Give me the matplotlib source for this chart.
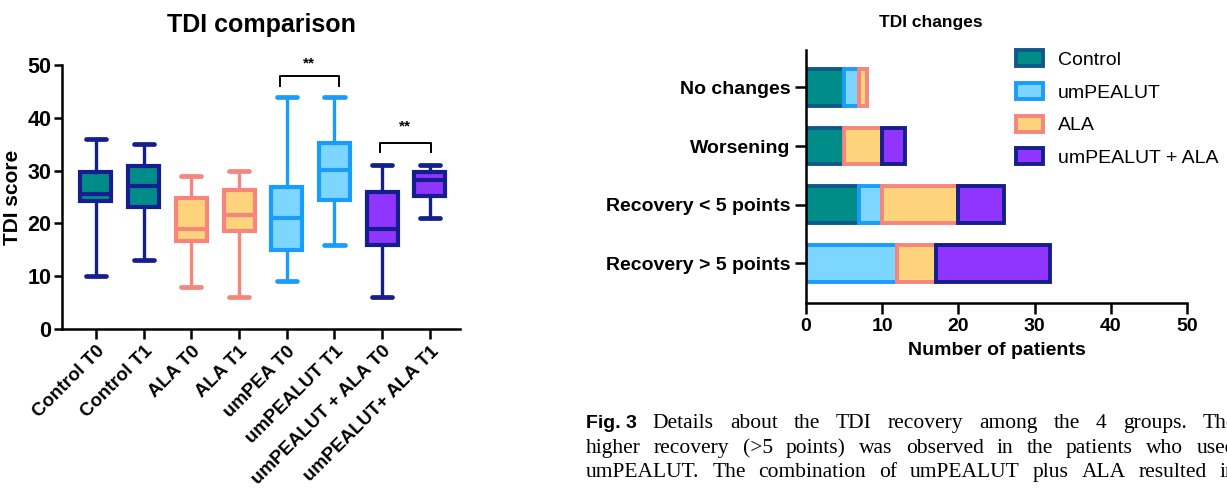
import numpy as np
import matplotlib
matplotlib.use("Agg")
import matplotlib.pyplot as plt
from matplotlib import transforms
from matplotlib.patches import Patch

plt.rcParams['font.family'] = ['Liberation Sans', 'DejaVu Sans']

# TDI comparison (box plot summary per group)
groups = ["Control T0", "Control T1", "ALA T0", "ALA T1", "umPEA T0",
          "umPEALUT T1", "umPEALUT + ALA T0", "umPEALUT+ ALA T1"]
whislo = [10, 13, 8, 6, 9, 16, 6, 21]
q1 = [24.3, 23.1, 16.7, 18.6, 15.0, 24.5, 16.0, 25.2]
med = [25.6, 27.0, 19.0, 21.6, 21.0, 30.2, 19.0, 28.3]
q3 = [29.7, 30.8, 24.8, 26.3, 26.9, 35.2, 25.9, 29.8]
whishi = [36, 35, 29, 30, 44, 44, 31, 31]

# TDI changes (number of patients)
outcomes = ["No changes", "Worsening", "Recovery < 5 points", "Recovery > 5 points"]
series = ["Control", "umPEALUT", "ALA", "umPEALUT + ALA"]
n_control = [5, 5, 7, 0]
n_umpealut = [2, 0, 3, 12]
n_ala = [1, 5, 10, 5]
n_combo = [0, 3, 6, 15]

caption = [
    "Details about the TDI recovery among the 4 groups. The",
    "higher recovery (>5 points) was observed in the patients who used",
    "umPEALUT. The combination of umPEALUT plus ALA resulted in",
]

teal = "#008c88"
navy = "#141e8c"
yellow = "#fdd37c"
salmon = "#f7857c"
lblue = "#7dd6ff"
blue = "#1a9cfb"
purple = "#9035fd"
ctrl_edge = "#0d5a8a"

fills = [teal, teal, yellow, yellow, lblue, lblue, purple, purple]
edges = [navy, navy, salmon, salmon, blue, blue, navy, navy]

W, H = 1227, 496
fig = plt.figure(figsize=(W/100, H/100), dpi=100)

# ---------- left panel
ax1 = fig.add_axes([62/W, 167/H, 398/W, 264/H])
stats = []
for i in range(len(groups)):
    stats.append(dict(whislo=whislo[i], q1=q1[i], med=med[i], q3=q3[i],
                      whishi=whishi[i], fliers=[]))
bp = ax1.bxp(stats, positions=range(len(groups)), widths=0.65, capwidths=0.42,
             patch_artist=True, showfliers=False)
for i in range(len(groups)):
    bp['boxes'][i].set(facecolor=fills[i], edgecolor=edges[i], linewidth=3)
    bp['medians'][i].set(color=edges[i], linewidth=3)
    for k in (2*i, 2*i+1):
        bp['whiskers'][k].set(color=edges[i], linewidth=2.4)
        bp['caps'][k].set(color=edges[i], linewidth=3.4, solid_capstyle='round')

ax1.set_xlim(-0.71, 7.63)
ax1.set_ylim(0, 50)
ax1.set_yticks(range(0, 51, 10))
ax1.set_xticks(range(len(groups)))
ax1.set_xticklabels(groups, rotation=45, ha='right', rotation_mode='anchor',
                    fontsize=13.5, fontweight='bold')
for lab in ax1.get_yticklabels():
    lab.set_fontsize(15.5)
    lab.set_fontweight('bold')
ax1.tick_params(axis='x', direction='out', length=7, width=1.8, pad=3)
ax1.tick_params(axis='y', direction='out', length=6, width=1.8, pad=1.5)
for s in ('top', 'right'):
    ax1.spines[s].set_visible(False)
for s in ('left', 'bottom'):
    ax1.spines[s].set_linewidth(1.8)
ax1.set_ylabel("TDI score", fontsize=15, fontweight='bold', labelpad=4)
ax1.set_title("TDI comparison", fontsize=18, fontweight='bold', pad=24)

# significance brackets
ax1.plot([3.86, 3.86, 5.09, 5.09], [46.1, 47.9, 47.9, 46.1], color='black',
         lw=1.4, clip_on=False)
ax1.text(4.47, 50.2, "**", ha='center', va='center', fontsize=11, fontweight='bold')
ax1.plot([5.95, 5.95, 7.02, 7.02], [33.5, 35.3, 35.3, 33.5], color='black',
         lw=1.4, clip_on=False)
ax1.text(6.48, 38.4, "**", ha='center', va='center', fontsize=11, fontweight='bold')

# ---------- right panel
ax2 = fig.add_axes([806/W, 193/H, 381/W, 253/H])
ypos = np.arange(len(outcomes))
seg_vals = [n_control, n_umpealut, n_ala, n_combo]
seg_fill = [teal, lblue, yellow, purple]
seg_edge = [ctrl_edge, blue, salmon, navy]
left = np.zeros(len(outcomes))
for vals, fc, ec, name in zip(seg_vals, seg_fill, seg_edge, series):
    vals = np.array(vals, dtype=float)
    mask = vals > 0
    ax2.barh(ypos[mask], vals[mask], left=left[mask], height=0.63, color=fc,
             edgecolor=ec, linewidth=2.8)
    left += vals

ax2.set_xlim(0, 50)
ax2.set_ylim(3.68, -0.64)
ax2.set_xticks(range(0, 51, 10))
ax2.set_yticks(ypos)
ax2.set_yticklabels(outcomes, fontsize=14, fontweight='bold')
for lab in ax2.get_xticklabels():
    lab.set_fontsize(14)
    lab.set_fontweight('bold')
lab = ax2.get_yticklabels()[-1]
lab.set_transform(lab.get_transform() + transforms.ScaledTranslation(0, -13/100, fig.dpi_scale_trans))
ax2.tick_params(axis='both', direction='out', length=8, width=1.8, pad=3)
for s in ('top', 'right'):
    ax2.spines[s].set_visible(False)
for s in ('left', 'bottom'):
    ax2.spines[s].set_linewidth(1.8)
ax2.set_xlabel("Number of patients", fontsize=14, fontweight='bold', labelpad=5)
fig.text(931/W, 1 - 22/H, "TDI changes", ha='center', va='center',
         fontsize=12.5, fontweight='bold')

handles = [Patch(facecolor=fc, edgecolor=ec, linewidth=2.8)
           for fc, ec in zip(seg_fill, seg_edge)]
ax2.legend(handles, series, loc='upper left', bbox_to_anchor=(1016/W, 1 - 50/H),
           bbox_transform=fig.transFigure, frameon=False, fontsize=14,
           handlelength=1.4, handleheight=0.9, labelspacing=0.72,
           handletextpad=0.75, borderaxespad=0, borderpad=0)

# ---------- caption (justified, running off the right edge)
fig.canvas.draw()
renderer = fig.canvas.get_renderer()
x_start, x_end = 586, 1236
line_y = [428, 453, 477]
for li, (line, yy) in enumerate(zip(caption, line_y)):
    items = []
    if li == 0:
        items.append(("Fig. 3", dict(family=['Liberation Sans', 'DejaVu Sans'],
                                     fontweight='bold', fontsize=14)))
    for w in line.split():
        items.append((w, dict(family=['Liberation Serif', 'DejaVu Serif'], fontsize=15.5)))
    texts = []
    widths = []
    for w, kw in items:
        t = fig.text(0, 0, w, va='baseline', ha='left', **kw)
        texts.append(t)
        widths.append(t.get_window_extent(renderer).width)
    gap = (x_end - x_start - sum(widths)) / (len(items) - 1)
    x = x_start
    for t, w in zip(texts, widths):
        t.set_position((x / W, 1 - yy / H))
        x += w + gap

fig.savefig("out.png", dpi=100)
